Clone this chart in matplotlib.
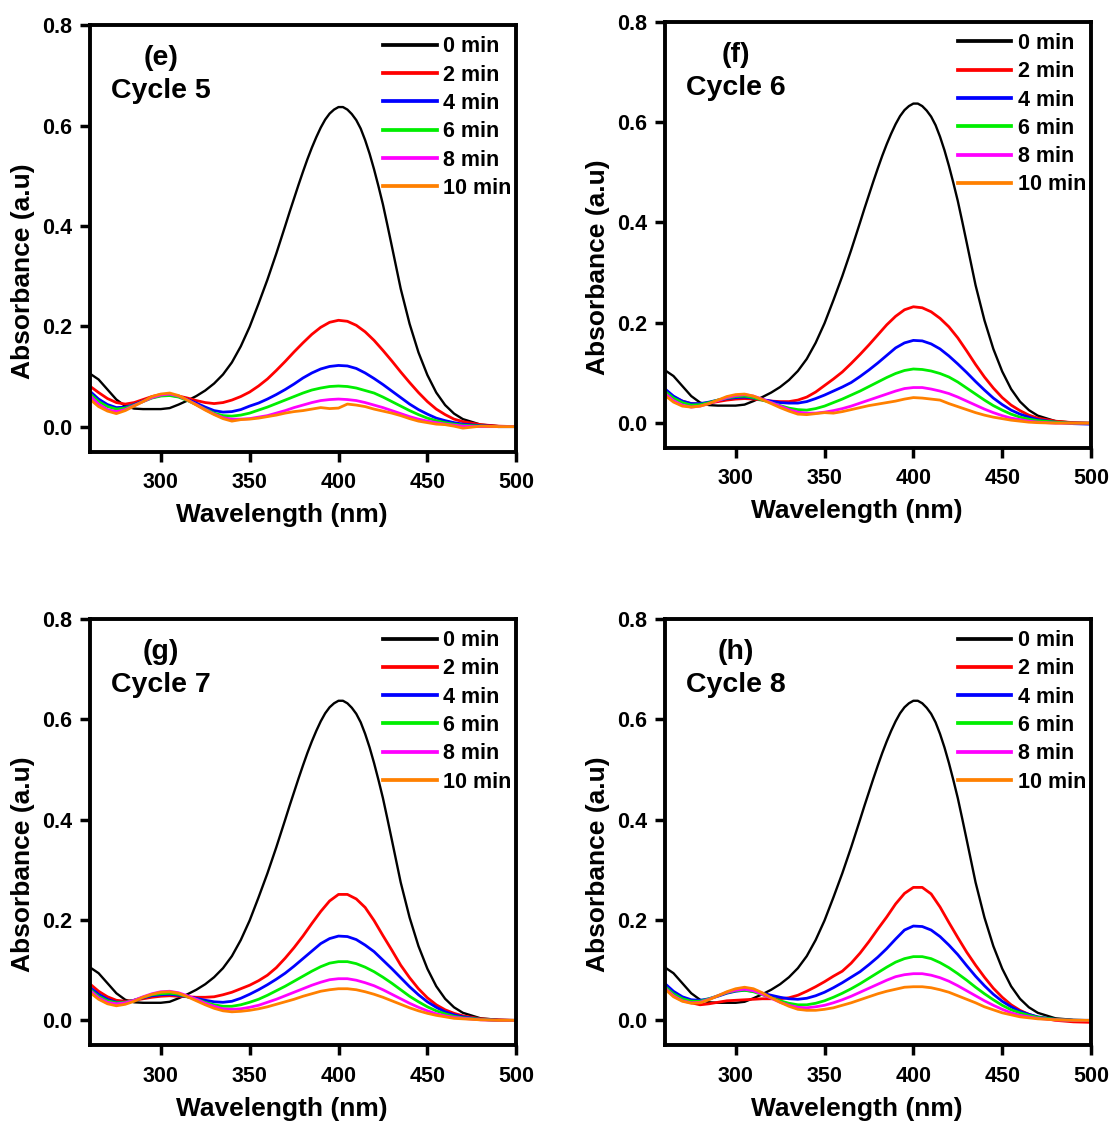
import matplotlib
matplotlib.use("Agg")
import matplotlib.pyplot as plt
from matplotlib.ticker import FormatStrFormatter

plt.rcParams['font.family'] = ['Liberation Sans', 'DejaVu Sans']
plt.rcParams['font.weight'] = 'bold'
plt.rcParams['axes.labelweight'] = 'bold'

# wavelength grid (nm) for the irradiated spectra
wl = [260, 265, 270, 275, 280, 285, 290, 295, 300, 305, 310, 315, 320, 325, 330,
      335, 340, 345, 350, 355, 360, 365, 370, 375, 380, 385, 390, 395, 400, 405,
      410, 415, 420, 425, 430, 435, 440, 445, 450, 455, 460, 465, 470, 480, 490, 500]

# starting spectrum (0 min), same for every cycle, read finer around the 400 nm band
wl_0 = [260, 265, 270, 275, 280, 285, 290, 295, 300, 305, 310, 315, 320, 325, 330,
        335, 340, 345, 350, 355, 360, 365, 370, 372.5, 375, 377.5, 380, 382.5, 385,
        387.5, 390, 392.5, 395, 397.5, 400, 402.5, 405, 407.5, 410, 412.5, 415, 417.5,
        420, 422.5, 425, 427.5, 430, 435, 440, 445, 450, 455, 460, 465, 470, 480, 490, 500]
a_0min = [0.106, 0.094, 0.074, 0.054, 0.041, 0.036, 0.035, 0.035, 0.035, 0.037, 0.044, 0.052,
          0.061, 0.072, 0.086, 0.104, 0.128, 0.160, 0.199, 0.245, 0.293, 0.345, 0.400, 0.428,
          0.455, 0.482, 0.508, 0.533, 0.556, 0.577, 0.596, 0.612, 0.624, 0.632, 0.637, 0.637,
          0.632, 0.623, 0.611, 0.594, 0.571, 0.544, 0.513, 0.479, 0.443, 0.402, 0.360, 0.275,
          0.205, 0.148, 0.103, 0.068, 0.043, 0.026, 0.015, 0.004, 0.001, 0.000]

# cycle 5
c5_2 = [0.081, 0.068, 0.056, 0.048, 0.045, 0.048, 0.054, 0.060, 0.064, 0.064, 0.061, 0.057,
        0.052, 0.048, 0.046, 0.048, 0.053, 0.060, 0.069, 0.081, 0.095, 0.112, 0.130, 0.149,
        0.167, 0.184, 0.198, 0.208, 0.212, 0.210, 0.202, 0.189, 0.172, 0.152, 0.131, 0.109,
        0.088, 0.068, 0.050, 0.035, 0.024, 0.015, 0.010, 0.004, 0.001, 0.000]
c5_4 = [0.071, 0.055, 0.044, 0.038, 0.039, 0.044, 0.051, 0.058, 0.062, 0.063, 0.060, 0.054,
        0.047, 0.039, 0.032, 0.029, 0.030, 0.034, 0.041, 0.047, 0.055, 0.064, 0.074, 0.085,
        0.097, 0.107, 0.115, 0.120, 0.122, 0.121, 0.116, 0.107, 0.096, 0.084, 0.071, 0.058,
        0.045, 0.034, 0.025, 0.017, 0.012, 0.008, 0.005, 0.002, 0.000, 0.000]
c5_6 = [0.066, 0.050, 0.040, 0.035, 0.037, 0.043, 0.050, 0.057, 0.061, 0.062, 0.059, 0.052,
        0.044, 0.035, 0.027, 0.022, 0.021, 0.023, 0.027, 0.033, 0.039, 0.046, 0.053, 0.060,
        0.067, 0.073, 0.077, 0.080, 0.081, 0.080, 0.077, 0.072, 0.067, 0.059, 0.050, 0.041,
        0.032, 0.024, 0.017, 0.012, 0.008, 0.005, 0.003, 0.001, 0.000, 0.000]
c5_8 = [0.062, 0.045, 0.034, 0.030, 0.034, 0.042, 0.050, 0.058, 0.063, 0.065, 0.061, 0.053,
        0.044, 0.034, 0.025, 0.018, 0.015, 0.015, 0.016, 0.019, 0.022, 0.027, 0.032, 0.038,
        0.043, 0.048, 0.052, 0.054, 0.055, 0.054, 0.052, 0.048, 0.043, 0.038, 0.032, 0.026,
        0.020, 0.015, 0.011, 0.008, 0.005, 0.003, 0.001, 0.000, 0.000, 0.000]
c5_10 = [0.055, 0.040, 0.031, 0.026, 0.032, 0.041, 0.050, 0.060, 0.065, 0.067, 0.062, 0.053,
         0.043, 0.033, 0.024, 0.016, 0.011, 0.014, 0.015, 0.017, 0.020, 0.023, 0.027, 0.030,
         0.032, 0.035, 0.038, 0.036, 0.037, 0.045, 0.043, 0.040, 0.035, 0.031, 0.027, 0.022,
         0.016, 0.011, 0.008, 0.005, 0.004, 0.001, -0.003, 0.001, 0.000, 0.000]

# cycle 6
c6_2 = [0.064, 0.052, 0.044, 0.039, 0.038, 0.040, 0.043, 0.046, 0.048, 0.049, 0.048, 0.046,
        0.044, 0.043, 0.043, 0.046, 0.052, 0.062, 0.075, 0.088, 0.102, 0.119, 0.137, 0.156,
        0.176, 0.196, 0.213, 0.226, 0.232, 0.230, 0.222, 0.209, 0.192, 0.170, 0.144, 0.117,
        0.092, 0.070, 0.051, 0.036, 0.025, 0.016, 0.010, 0.004, 0.001, 0.000]
c6_4 = [0.069, 0.054, 0.044, 0.039, 0.039, 0.042, 0.046, 0.049, 0.051, 0.052, 0.050, 0.047,
        0.044, 0.041, 0.040, 0.040, 0.043, 0.049, 0.056, 0.064, 0.072, 0.081, 0.093, 0.106,
        0.120, 0.135, 0.150, 0.160, 0.165, 0.164, 0.158, 0.148, 0.134, 0.118, 0.101, 0.083,
        0.066, 0.050, 0.037, 0.026, 0.018, 0.012, 0.007, 0.002, -0.001, -0.002]
c6_6 = [0.064, 0.050, 0.041, 0.036, 0.037, 0.041, 0.046, 0.050, 0.053, 0.054, 0.051, 0.046,
        0.041, 0.035, 0.030, 0.027, 0.026, 0.029, 0.034, 0.041, 0.048, 0.056, 0.064, 0.073,
        0.082, 0.091, 0.099, 0.105, 0.108, 0.107, 0.104, 0.099, 0.092, 0.082, 0.070, 0.058,
        0.046, 0.035, 0.026, 0.018, 0.012, 0.008, 0.005, 0.002, 0.000, 0.000]
c6_8 = [0.060, 0.045, 0.036, 0.032, 0.034, 0.039, 0.045, 0.051, 0.055, 0.057, 0.054, 0.048,
        0.041, 0.034, 0.027, 0.022, 0.020, 0.020, 0.022, 0.025, 0.029, 0.034, 0.040, 0.046,
        0.052, 0.058, 0.064, 0.069, 0.071, 0.071, 0.068, 0.064, 0.059, 0.052, 0.044, 0.036,
        0.028, 0.021, 0.015, 0.010, 0.007, 0.004, 0.002, 0.000, 0.000, 0.000]
c6_10 = [0.056, 0.042, 0.034, 0.032, 0.034, 0.039, 0.046, 0.053, 0.057, 0.058, 0.054, 0.047,
         0.039, 0.031, 0.024, 0.018, 0.017, 0.019, 0.021, 0.020, 0.023, 0.027, 0.031, 0.035,
         0.038, 0.041, 0.044, 0.048, 0.051, 0.050, 0.048, 0.046, 0.039, 0.033, 0.027, 0.021,
         0.016, 0.012, 0.009, 0.006, 0.004, 0.002, 0.001, 0.000, 0.000, 0.000]

# cycle 7
c7_2 = [0.073, 0.058, 0.047, 0.040, 0.038, 0.040, 0.043, 0.046, 0.048, 0.049, 0.048, 0.047,
        0.046, 0.046, 0.047, 0.051, 0.056, 0.063, 0.070, 0.079, 0.090, 0.105, 0.124, 0.145,
        0.168, 0.193, 0.217, 0.238, 0.251, 0.251, 0.242, 0.225, 0.199, 0.169, 0.140, 0.110,
        0.085, 0.063, 0.045, 0.031, 0.021, 0.014, 0.009, 0.003, 0.001, 0.000]
c7_4 = [0.066, 0.052, 0.042, 0.036, 0.036, 0.040, 0.045, 0.049, 0.051, 0.052, 0.050, 0.047,
        0.044, 0.040, 0.037, 0.036, 0.038, 0.044, 0.052, 0.061, 0.071, 0.082, 0.094, 0.108,
        0.123, 0.138, 0.153, 0.163, 0.168, 0.167, 0.161, 0.150, 0.137, 0.120, 0.103, 0.085,
        0.067, 0.051, 0.037, 0.026, 0.017, 0.011, 0.007, 0.002, 0.000, 0.000]
c7_6 = [0.062, 0.048, 0.039, 0.035, 0.036, 0.040, 0.046, 0.051, 0.053, 0.054, 0.052, 0.047,
        0.042, 0.036, 0.031, 0.028, 0.028, 0.031, 0.036, 0.042, 0.050, 0.059, 0.068, 0.078,
        0.088, 0.098, 0.107, 0.114, 0.117, 0.117, 0.113, 0.106, 0.097, 0.086, 0.074, 0.061,
        0.048, 0.037, 0.027, 0.019, 0.013, 0.008, 0.005, 0.002, 0.000, 0.000]
c7_8 = [0.060, 0.045, 0.036, 0.033, 0.035, 0.040, 0.047, 0.053, 0.057, 0.058, 0.055, 0.049,
        0.042, 0.034, 0.028, 0.023, 0.022, 0.023, 0.026, 0.030, 0.036, 0.042, 0.049, 0.056,
        0.063, 0.070, 0.076, 0.081, 0.083, 0.083, 0.080, 0.075, 0.069, 0.061, 0.052, 0.043,
        0.034, 0.026, 0.019, 0.013, 0.009, 0.006, 0.004, 0.001, 0.000, 0.000]
c7_10 = [0.056, 0.042, 0.033, 0.029, 0.032, 0.038, 0.046, 0.052, 0.056, 0.057, 0.054, 0.047,
         0.039, 0.031, 0.024, 0.019, 0.017, 0.018, 0.020, 0.023, 0.027, 0.032, 0.037, 0.042,
         0.048, 0.053, 0.058, 0.061, 0.063, 0.063, 0.061, 0.057, 0.052, 0.046, 0.039, 0.032,
         0.025, 0.019, 0.014, 0.010, 0.007, 0.004, 0.003, 0.001, 0.000, 0.000]

# cycle 8
c8_2 = [0.071, 0.056, 0.044, 0.035, 0.031, 0.033, 0.036, 0.039, 0.040, 0.041, 0.042, 0.043,
        0.043, 0.043, 0.045, 0.050, 0.058, 0.067, 0.077, 0.088, 0.098, 0.114, 0.134, 0.157,
        0.182, 0.206, 0.232, 0.253, 0.265, 0.265, 0.252, 0.226, 0.195, 0.165, 0.136, 0.110,
        0.086, 0.064, 0.046, 0.031, 0.020, 0.012, 0.006, 0.000, -0.003, -0.004]
c8_4 = [0.074, 0.058, 0.047, 0.041, 0.040, 0.043, 0.048, 0.054, 0.058, 0.060, 0.058, 0.054,
        0.050, 0.046, 0.043, 0.042, 0.044, 0.049, 0.056, 0.065, 0.075, 0.086, 0.097, 0.111,
        0.126, 0.143, 0.162, 0.180, 0.188, 0.187, 0.180, 0.167, 0.150, 0.131, 0.109, 0.088,
        0.069, 0.052, 0.038, 0.027, 0.018, 0.012, 0.007, 0.002, 0.000, 0.000]
c8_6 = [0.068, 0.053, 0.043, 0.038, 0.038, 0.043, 0.049, 0.055, 0.059, 0.060, 0.057, 0.051,
        0.045, 0.039, 0.034, 0.031, 0.031, 0.034, 0.039, 0.046, 0.054, 0.063, 0.073, 0.084,
        0.095, 0.106, 0.116, 0.123, 0.127, 0.127, 0.123, 0.115, 0.105, 0.093, 0.080, 0.066,
        0.053, 0.041, 0.030, 0.021, 0.015, 0.010, 0.006, 0.002, 0.000, 0.000]
c8_8 = [0.065, 0.049, 0.039, 0.035, 0.036, 0.042, 0.049, 0.056, 0.060, 0.062, 0.059, 0.052,
        0.044, 0.036, 0.030, 0.026, 0.025, 0.027, 0.030, 0.035, 0.041, 0.048, 0.056, 0.064,
        0.072, 0.080, 0.087, 0.091, 0.093, 0.093, 0.090, 0.085, 0.078, 0.069, 0.059, 0.049,
        0.039, 0.030, 0.022, 0.015, 0.010, 0.007, 0.004, 0.001, 0.000, 0.000]
c8_10 = [0.063, 0.047, 0.038, 0.034, 0.035, 0.041, 0.049, 0.057, 0.063, 0.066, 0.063, 0.055,
         0.045, 0.036, 0.028, 0.022, 0.020, 0.020, 0.022, 0.025, 0.030, 0.035, 0.041, 0.047,
         0.053, 0.058, 0.062, 0.066, 0.067, 0.067, 0.065, 0.061, 0.056, 0.049, 0.042, 0.035,
         0.027, 0.021, 0.015, 0.011, 0.007, 0.005, 0.003, 0.001, 0.000, 0.000]

times = ['2 min', '4 min', '6 min', '8 min', '10 min']
colors = ['#ff0000', '#0000ff', '#00ee00', '#ff00ff', '#ff8000']

panels = [
    ('(e)', 'Cycle 5', [c5_2, c5_4, c5_6, c5_8, c5_10], [0.0806, 0.5981, 0.3832, 0.3794]),
    ('(f)', 'Cycle 6', [c6_2, c6_4, c6_6, c6_8, c6_10], [0.5971, 0.6012, 0.3832, 0.3794]),
    ('(g)', 'Cycle 7', [c7_2, c7_4, c7_6, c7_8, c7_10], [0.0806, 0.0699, 0.3832, 0.3794]),
    ('(h)', 'Cycle 8', [c8_2, c8_4, c8_6, c8_8, c8_10], [0.5971, 0.0699, 0.3832, 0.3794]),
]

fig = plt.figure(figsize=(11.13, 11.24), dpi=100)

for tag, cycle, spectra, pos in panels:
    ax = fig.add_axes(pos)
    ax.plot(wl_0, a_0min, color='black', lw=1.7, label='0 min')
    for spec, lab, c in zip(spectra, times, colors):
        ax.plot(wl, spec, color=c, lw=2.0, label=lab)

    ax.set_xlim(260, 500)
    ax.set_ylim(-0.05, 0.8)
    ax.set_xticks([300, 350, 400, 450, 500])
    ax.set_yticks([0.0, 0.2, 0.4, 0.6, 0.8])
    ax.yaxis.set_major_formatter(FormatStrFormatter('%.1f'))
    ax.tick_params(direction='out', length=7.5, width=2.5, labelsize=15.5)
    ax.tick_params(axis='x', pad=7)
    ax.tick_params(axis='y', pad=5)
    for sp in ax.spines.values():
        sp.set_linewidth(2.8)

    ax.set_xlabel('Wavelength (nm)', fontsize=19)
    ax.xaxis.set_label_coords(0.451, -0.12)
    ax.set_ylabel('Absorbance (a.u)', fontsize=19)
    ax.yaxis.set_label_coords(-0.128, 0.424)

    leg = ax.legend(loc='upper left', bbox_to_anchor=(0.687, 0.974), frameon=False,
                    fontsize=15.5, handlelength=2.5, handletextpad=0.3,
                    labelspacing=0.34, borderpad=0, borderaxespad=0)
    for line in leg.get_lines():
        line.set_linewidth(2.7)

    ax.text(0.167, 0.923, tag, transform=ax.transAxes, ha='center', va='center', fontsize=20.5)
    ax.text(0.167, 0.845, cycle, transform=ax.transAxes, ha='center', va='center', fontsize=20.5)

fig.savefig('out.png', dpi=100)
